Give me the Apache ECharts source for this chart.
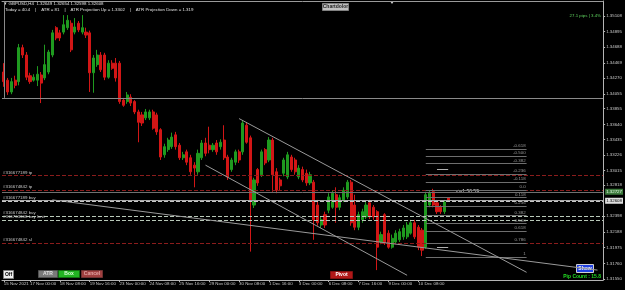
<!DOCTYPE html>
<html>
<head>
<meta charset="utf-8">
<script src="https://cdn.jsdelivr.net/npm/echarts@6/dist/echarts.min.js"></script>
<style>
  html, body { margin: 0; padding: 0; background: #000; }
  #chart { width: 625px; height: 290px; }
</style>
</head>
<body>
<div id="chart"></div>
<script>
// GBPUSD H4 candles
const opens = [
  1.3435,1.3424,1.3408,1.3424,1.3422,1.3468,1.3458,1.3430,1.3424,1.3424,
  1.3431,1.3427,1.3435,1.3458,1.3495,1.3488,1.3489,1.3495,1.3501,1.3489,
  1.3501,1.3489,1.3489,1.3488,1.3434,1.3445,1.3458,1.3458,1.3428,1.3447,
  1.3447,1.3447,1.3397,1.3395,1.3401,1.3395,1.3381,1.3377,1.3373,1.3373,
  1.3381,1.3377,1.3357,1.3323,1.3330,1.3334,1.3350,1.3336,1.3319,1.3327,
  1.3319,1.3309,1.3300,1.3319,1.3339,1.3336,1.3330,1.3339,1.3334,1.3343,
  1.3320,1.3303,1.3313,1.3327,1.3327,1.3363,1.3346,1.3255,1.3303,1.3296,
  1.3330,1.3316,1.3343,1.3300,1.3289,1.3298,1.3293,1.3320,1.3316,1.3293,
  1.3303,1.3298,1.3285,1.3286,1.3255,1.3228,1.3242,1.3248,1.3252,1.3269,
  1.3252,1.3262,1.3266,1.3286,1.3255,1.3225,1.3235,1.3239,1.3258,1.3252,
  1.3246,1.3205,1.3242,1.3217,1.3198,1.3205,1.3208,1.3212,1.3212,1.3217,
  1.3231,1.3225,1.3221,1.3198,1.3255,1.3273,1.3258,1.3252,1.3246,1.32649
];
const closes = [
  1.3422,1.3408,1.3422,1.3417,1.3468,1.3458,1.3428,1.3422,1.3428,1.3432,
  1.3420,1.3445,1.3462,1.3488,1.3481,1.3481,1.3499,1.3505,1.3465,1.3496,
  1.3492,1.3495,1.3485,1.3434,1.3454,1.3458,1.3438,1.3428,1.3447,1.3440,
  1.3427,1.3395,1.3390,1.3404,1.3393,1.3381,1.3367,1.3366,1.3381,1.3381,
  1.3359,1.3354,1.3320,1.3334,1.3343,1.3347,1.3334,1.3319,1.3323,1.3313,
  1.3300,1.3305,1.3325,1.3339,1.3325,1.3330,1.3336,1.3327,1.3340,1.3319,
  1.3293,1.3316,1.3327,1.3316,1.3366,1.3340,1.3262,1.3289,1.3285,1.3327,
  1.3312,1.3343,1.3296,1.3275,1.3281,1.3316,1.3323,1.3303,1.3300,1.3305,
  1.3289,1.3285,1.3296,1.3235,1.3231,1.3235,1.3228,1.3266,1.3271,1.3252,
  1.3265,1.3275,1.3286,1.3231,1.3225,1.3242,1.3246,1.3255,1.3239,1.3239,
  1.3198,1.3215,1.3204,1.3198,1.3210,1.3217,1.3219,1.3224,1.3228,1.3231,
  1.3212,1.3198,1.3194,1.3269,1.3271,1.3255,1.3246,1.3246,1.3259,1.32608
];
const lows = [
  1.3415,1.3404,1.3405,1.3413,1.3417,1.3454,1.3424,1.3419,1.3422,1.3416,
  1.3393,1.3424,1.3432,1.3455,1.3478,1.3477,1.3486,1.3492,1.3462,1.3486,
  1.3489,1.3486,1.3481,1.3408,1.3407,1.3442,1.3435,1.3424,1.3426,1.3438,
  1.3422,1.3392,1.3388,1.3392,1.3389,1.3378,1.3340,1.3362,1.3370,1.3370,
  1.3357,1.3350,1.3316,1.3319,1.3327,1.3331,1.3330,1.3316,1.3316,1.3309,
  1.3296,1.3279,1.3296,1.3316,1.3321,1.3325,1.3327,1.3323,1.3330,1.3316,
  1.3289,1.3300,1.3309,1.3312,1.3323,1.3338,1.3192,1.3251,1.3281,1.3293,
  1.3309,1.3313,1.3273,1.3271,1.3275,1.3294,1.3290,1.3300,1.3296,1.3290,
  1.3286,1.3281,1.3282,1.3208,1.3227,1.3224,1.3224,1.3244,1.3250,1.3231,
  1.3248,1.3259,1.3263,1.3227,1.3221,1.3221,1.3231,1.3236,1.3236,1.3235,
  1.3167,1.3202,1.3201,1.3196,1.3196,1.3202,1.3205,1.3208,1.3209,1.3215,
  1.3209,1.3194,1.3186,1.3196,1.3252,1.3252,1.3243,1.3243,1.3243,1.32598
];
const highs = [
  1.3447,1.3427,1.3427,1.3430,1.3473,1.3472,1.3462,1.3434,1.3432,1.3443,
  1.3435,1.3472,1.3465,1.3492,1.3497,1.3492,1.3512,1.3512,1.3505,1.3508,
  1.3504,1.3512,1.3495,1.3491,1.3458,1.3465,1.3462,1.3461,1.3451,1.3451,
  1.3454,1.3450,1.3400,1.3408,1.3405,1.3397,1.3384,1.3381,1.3385,1.3384,
  1.3384,1.3380,1.3359,1.3338,1.3346,1.3353,1.3354,1.3339,1.3327,1.3330,
  1.3323,1.3313,1.3330,1.3343,1.3346,1.3361,1.3339,1.3343,1.3344,1.3363,
  1.3323,1.3319,1.3330,1.3330,1.3370,1.3367,1.3349,1.3292,1.3305,1.3330,
  1.3332,1.3347,1.3346,1.3305,1.3292,1.3319,1.3327,1.3323,1.3319,1.3309,
  1.3307,1.3303,1.3300,1.3289,1.3262,1.3239,1.3246,1.3271,1.3275,1.3279,
  1.3269,1.3279,1.3289,1.3289,1.3269,1.3246,1.3250,1.3259,1.3262,1.3255,
  1.3248,1.3219,1.3244,1.3221,1.3215,1.3221,1.3223,1.3228,1.3232,1.3235,
  1.3235,1.3228,1.3224,1.3273,1.3274,1.3277,1.3262,1.3255,1.3262,1.32654
];

// right price scale labels
const priceTicks = [1.35108,1.34895,1.34688,1.34469,1.34270,1.34055,1.33855,1.33640,1.33435,
  1.33226,1.33015,1.32818,1.32398,1.32188,1.31975,1.31760,1.31550];
// time scale labels
const timeTicks = ['17 Nov 00:00','18 Nov 08:00','19 Nov 16:00','23 Nov 00:00','24 Nov 08:00',
  '25 Nov 16:00','29 Nov 00:00','30 Nov 08:00','1 Dec 16:00','3 Dec 00:00','6 Dec 08:00',
  '7 Dec 16:00','9 Dec 00:00','10 Dec 08:00'];
const firstLabel = '15 Nov 2021';

// horizontal order lines
const orderNames = ['#316677189 tp','#316674842 tp','','#316677189 buy','#316674842 buy','#316763308 buy limit','#316674842 sl'];
const orderPrices = [1.3295, 1.3275, 1.3273, 1.3261, 1.3240, 1.3235, 1.3204];
const orderColors = ['#8b1c1c','#8b1c1c','#707070','#a8a8a8','#b8c8b8','#b8c8b8','#8b1c1c'];
const orderDash = ['dashed','dashed','solid','solid','dashed','dashed','dashed'];
const roundLevel = 1.3400;

// fibo levels
const fibLabels = ['-0.618','-0.500','-0.382','-0.236','-0.118','0.0','0.118','0.236','0.382','0.500','0.618','0.786','1'];
const fibPrices = [1.3331,1.3321,1.3311,1.3297,1.3286,1.3275,1.3265,1.3254,1.3241,1.3230,1.3220,1.3204,1.3185];
// short marker segments near the fibo
const markerPrices = [1.3303, 1.3198];

// trend lines: [startBar, startPrice, endBar, endPrice]
const trendLines = [
  [63, 1.3372, 140, 1.3164],
  [54, 1.3309, 108, 1.3160],
  [13, 1.3262, 159, 1.3167]
];

const slotCount = 161;
const monthNames = ['Jan','Feb','Mar','Apr','May','Jun','Jul','Aug','Sep','Oct','Nov','Dec'];

function buildTimes() {
  const out = [];
  let t = Date.UTC(2021, 10, 15, 20, 0);
  while (out.length < slotCount) {
    const d = new Date(t);
    const wd = d.getUTCDay();
    if (wd !== 0 && wd !== 6) {
      const hh = String(d.getUTCHours()).padStart(2, '0');
      out.push(d.getUTCDate() + ' ' + monthNames[d.getUTCMonth()] + ' ' + hh + ':00');
    }
    t += 4 * 3600 * 1000;
  }
  return out;
}

const times = buildTimes();
const candles = opens.map((o, i) => [o, closes[i], lows[i], highs[i]]);
const showTick = (idx, val) => idx === 0 || timeTicks.indexOf(val) >= 0;

const chart = echarts.init(document.getElementById('chart'));
const FONT = 'Liberation Sans';

const markLines = [];
markLines.push({ yAxis: roundLevel, lineStyle: { color: '#8a8a8a', type: 'solid', width: 1 }, label: { show: false } });
markLines.push([
  { coord: [0, 1.3531], lineStyle: { color: '#8a8a8a', type: 'solid', width: 1 }, label: { show: false } },
  { coord: [0, roundLevel] }
]);
orderPrices.forEach((p, i) => {
  markLines.push({
    yAxis: p,
    lineStyle: { color: orderColors[i], type: orderDash[i], width: 1 },
    label: orderNames[i] ? {
      show: true, position: 'insideStartTop', formatter: orderNames[i],
      color: '#c8c8c8', fontSize: 4.4, fontFamily: FONT, distance: [1, 1]
    } : { show: false }
  });
});
fibPrices.forEach((p, i) => {
  markLines.push([
    { coord: [113, p], lineStyle: { color: '#6e6e6e', type: 'solid', width: 1 },
      label: { show: true, position: 'insideEndTop', formatter: fibLabels[i], color: '#9a9a9a',
        fontSize: 4.4, fontFamily: FONT, distance: [1, 1] } },
    { coord: [140, p] }
  ]);
});
markerPrices.forEach(p => {
  markLines.push([
    { coord: [116, p], lineStyle: { color: '#b0b0b0', type: 'solid', width: 1 }, label: { show: false } },
    { coord: [119, p] }
  ]);
});
trendLines.forEach(l => {
  markLines.push([
    { coord: [l[0], l[1]], lineStyle: { color: '#9a9a9a', type: 'solid', width: 1 }, label: { show: false } },
    { coord: [l[2], l[3]] }
  ]);
});
// price tags on the scale
markLines.push({ yAxis: 1.3273, lineStyle: { color: 'rgba(0,0,0,0)', width: 1 },
  label: { show: true, position: 'end', formatter: '1.32727', color: '#e8ffe8', backgroundColor: '#3c7a3c',
    fontSize: 4.4, fontFamily: FONT, padding: [1, 1], distance: 2 } });
markLines.push({ yAxis: 1.32608, lineStyle: { color: '#c8c8c8', width: 1 },
  label: { show: true, position: 'end', formatter: '1.32608', color: '#000', backgroundColor: '#e0e0e0',
    fontSize: 4.4, fontFamily: FONT, padding: [1, 1], distance: 2 } });

function button(x, y, w, h, fill, stroke, label, color) {
  return {
    type: 'group', left: x, top: y,
    children: [
      { type: 'rect', shape: { x: 0, y: 0, width: w, height: h }, style: { fill: fill, stroke: stroke, lineWidth: 1 } },
      { type: 'text', x: w / 2, y: h / 2, style: { text: label, fill: color, font: 'bold 5px ' + FONT, align: 'center', verticalAlign: 'middle' } }
    ]
  };
}

const option = {
  backgroundColor: '#000',
  animation: false,
  grid: { left: 2, right: 21, top: 1, bottom: 10, show: false },
  xAxis: [{
    type: 'category',
    data: times,
    boundaryGap: true,
    axisLine: { lineStyle: { color: '#b4b4b4' } },
    axisTick: { show: true, alignWithLabel: true, interval: showTick, length: 2, lineStyle: { color: '#b4b4b4' } },
    axisLabel: {
      interval: showTick, align: 'left', margin: 2, color: '#c8c8c8', fontSize: 4.4, fontFamily: FONT,
      formatter: (v, idx) => idx === 0 ? firstLabel : v
    },
    splitLine: { show: false }
  }, {
    type: 'category',
    data: times,
    position: 'top',
    axisLine: { lineStyle: { color: '#9a9a9a' } },
    axisTick: { show: false },
    axisLabel: { show: false }
  }],
  yAxis: {
    type: 'value',
    position: 'right',
    min: 1.31536,
    max: 1.35311,
    axisLine: { show: true, lineStyle: { color: '#b4b4b4' } },
    axisTick: { show: true, length: 2, customValues: priceTicks, lineStyle: { color: '#b4b4b4' } },
    axisLabel: { customValues: priceTicks, margin: 3, color: '#c8c8c8', fontSize: 4.4, fontFamily: FONT,
      formatter: v => v.toFixed(5) },
    splitLine: { show: false }
  },
  series: [{
    type: 'candlestick',
    data: candles,
    barWidth: 2.6,
    itemStyle: { color: '#1f9a1f', color0: '#d21616', borderColor: '#1f9a1f', borderColor0: '#d21616', borderWidth: 1 },
    markLine: { silent: true, precision: 6, symbol: ['none', 'none'], animation: false, data: markLines }
  }],
  graphic: [
    { type: 'text', left: 3, top: 2, style: { text: '\u25BC GBPUSD,H4  1.32649 1.32654 1.32598 1.32608', fill: '#e0e0e0', font: '4.4px ' + FONT } },
    { type: 'text', left: 5, top: 8, style: { text: 'Today = 40.4    |    ATR = 81    |    ATR Projection Up = 1.3302    |    ATR Projection Down = 1.319', fill: '#e0e0e0', font: '4.4px ' + FONT } },
    button(322, 3, 26, 7, '#c0c0c0', '#808080', 'Chartdolor', '#202020'),
    { type: 'polygon', shape: { points: [[390, 1], [394, 1], [392, 4]] }, style: { fill: '#d0d0d0' } },
    { type: 'text', right: 24, top: 14, style: { text: '27.1 pips | 3.4%', fill: '#5fd35f', font: '4.4px ' + FONT } },
    { type: 'text', left: 456, top: 189, style: { text: '<--1:50:59', fill: '#e0e0e0', font: '5px ' + FONT } },
    button(3, 270, 10, 8, '#f0f0f0', '#808080', 'Off', '#000'),
    button(38, 270, 19, 7, '#7a7a7a', '#505050', 'ATR', '#e0e0e0'),
    button(58, 270, 21, 7, '#22b422', '#107010', 'Box', '#d8ffd8'),
    button(81, 270, 21, 7, '#a04040', '#703030', 'Cancel', '#e0a0a0'),
    button(330, 271, 22, 7, '#b01818', '#801010', 'Pivot', '#ffffff'),
    button(576, 264, 17, 8, '#2040e0', '#d0d0d0', 'Show', '#ffffff'),
    { type: 'text', right: 24, top: 274, style: { text: 'Pip Count : 15.8', fill: '#22dd22', font: 'bold 5px ' + FONT } }
  ]
};
chart.setOption(option);
</script>
</body>
</html>
